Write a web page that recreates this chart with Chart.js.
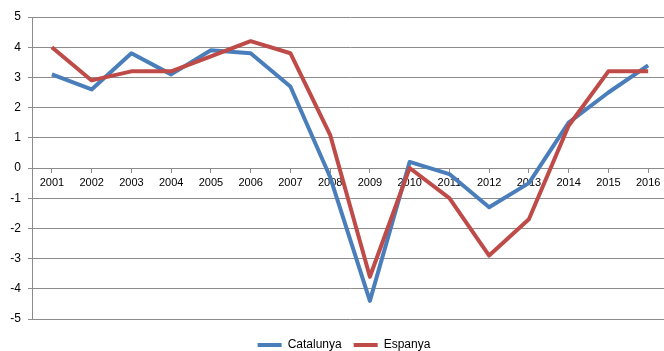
<!DOCTYPE html>
<html>
<head>
<meta charset="utf-8">
<script src="https://cdn.jsdelivr.net/npm/chart.js@4/dist/chart.umd.min.js"></script>
<style>
  html, body { margin: 0; padding: 0; background: #fff; overflow: hidden; }
  #wrap { width: 668px; height: 351px; }
</style>
</head>
<body>
<div id="wrap"><canvas id="chart"></canvas></div>
<script>
// years on the category axis
const years = ['2001', '2002', '2003', '2004', '2005', '2006', '2007', '2008',
               '2009', '2010', '2011', '2012', '2013', '2014', '2015', '2016'];
const catalunya = [3.1, 2.6, 3.8, 3.1, 3.9, 3.8, 2.7, -0.3, -4.4, 0.2, -0.2, -1.3, -0.5, 1.5, 2.5, 3.4];
const espanya = [4.0, 2.9, 3.2, 3.2, 3.7, 4.2, 3.8, 1.1, -3.6, 0.0, -1.0, -2.9, -1.7, 1.4, 3.2, 3.2];

const gridGray = '#8c8c8c';
const font = { family: "'Liberation Sans', Arial, sans-serif", size: 12 };

// nudge the legend down/right to where the original sits
const legendShift = {
    id: 'legendShift',
    afterLayout(chart) {
        const lg = chart.legend;
        if (!lg) return;
        lg.top += 8; lg.bottom += 8;
        lg.left += 10; lg.right += 10;
    }
};

new Chart(document.getElementById('chart'), {
    type: 'line',
    data: {
        labels: years,
        datasets: [{
            label: 'Catalunya',
            data: catalunya,
            borderColor: '#4a7ebb',
            backgroundColor: '#4a7ebb',
            borderWidth: 4,
            pointRadius: 0,
            borderJoinStyle: 'round',
            tension: 0,
            order: 1
        }, {
            label: 'Espanya',
            data: espanya,
            borderColor: '#be4b48',
            backgroundColor: '#be4b48',
            borderWidth: 4,
            pointRadius: 0,
            borderJoinStyle: 'round',
            tension: 0,
            order: 0
        }]
    },
    options: {
        responsive: true,
        maintainAspectRatio: false,
        animation: false,
        layout: { padding: { top: 17, right: 0, left: 0, bottom: -2 } },
        plugins: {
            tooltip: { enabled: false },
            legend: {
                position: 'bottom',
                labels: {
                    usePointStyle: true,
                    pointStyle: 'line',
                    pointStyleWidth: 24,
                    padding: 12,
                    color: '#000',
                    font: font,
                    sort: (a, b) => a.datasetIndex - b.datasetIndex
                }
            }
        },
        scales: {
            x: {
                position: { y: 0 },
                offset: true,
                grid: { drawOnChartArea: false, drawTicks: true, tickLength: 4, color: gridGray },
                border: { display: true, color: gridGray },
                ticks: { color: '#000', font: { family: font.family, size: 11 }, padding: 4, maxRotation: 0, autoSkip: false }
            },
            y: {
                min: -5,
                max: 5,
                afterFit: (s) => { s.width = 32; },
                grid: { color: gridGray, tickLength: 4 },
                border: { display: true, color: gridGray },
                ticks: { stepSize: 1, color: '#000', font: font, padding: 7 }
            }
        }
    },
    plugins: [legendShift]
});
</script>
</body>
</html>
